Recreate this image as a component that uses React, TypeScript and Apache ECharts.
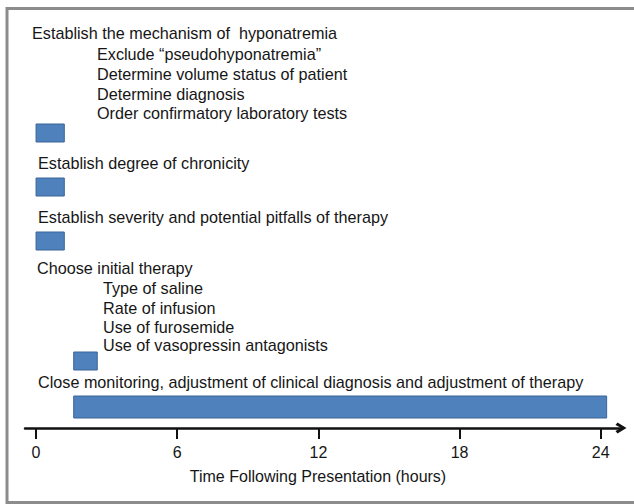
import React, { useEffect, useRef } from "react";
import * as echarts from "echarts";

// ---- data ----
const phases = [
  "Establish the mechanism of  hyponatremia",
  "Establish degree of chronicity",
  "Establish severity and potential pitfalls of therapy",
  "Choose initial therapy",
  "Close monitoring, adjustment of clinical diagnosis and adjustment of therapy",
];
const phaseStart = [0, 0, 0, 1.6, 1.6];
const phaseEnd = [1.2, 1.2, 1.2, 2.6, 24.25];
const mechanismSteps = [
  "Exclude \u201cpseudohyponatremia\u201d",
  "Determine volume status of patient",
  "Determine diagnosis",
  "Order confirmatory laboratory tests",
];
const therapySteps = [
  "Type of saline",
  "Rate of infusion",
  "Use of furosemide",
  "Use of vasopressin antagonists",
];
const xTicks = [0, 6, 12, 18, 24];
const xAxisName = "Time Following Presentation (hours)";

// ---- layout (pixels) ----
const ROW_Y = [133, 187, 241, 361, 407];
const BAR_H = [18, 18, 18, 18, 22];
const HEAD_POS = [
  [32, 33],
  [38, 163],
  [38, 217],
  [37, 268],
  [38, 382],
];
const MECH_X = 97;
const MECH_Y = [54, 74, 94, 113];
const THER_X = 103;
const THER_Y = [288, 308, 327, 345];

const FF = '"Liberation Sans", Arial, sans-serif';
const FONT = '16.2px "Liberation Sans", Arial, sans-serif';
const TEXT_COLOR = "#161616";

// open chevron arrow head (pointing up in symbol space; ECharts rotates it)
const CHEVRON = "path://M0,10 L6,0 L12,10 L9.4,12.2 L6,5.8 L2.6,12.2 Z";

function txt(text: string, x: number, y: number) {
  return {
    type: "text",
    style: { text, x, y, font: FONT, fill: TEXT_COLOR, verticalAlign: "middle", align: "left" },
    silent: true,
  };
}

export default function App() {
  const ref = useRef<HTMLDivElement>(null);
  useEffect(() => {
    if (!ref.current) return;
    const chart = echarts.init(ref.current, undefined, { renderer: "svg" });
    const graphics: any[] = [
      {
        type: "polyline",
        shape: { points: [[634, 8.5], [7, 8.5], [7, 502.5], [634, 502.5]] },
        style: { fill: "none", stroke: "#8c8c8c", lineWidth: 3 },
        silent: true,
        z: 10,
      },
    ];
    phases.forEach((p, i) => graphics.push(txt(p, HEAD_POS[i][0], HEAD_POS[i][1])));
    mechanismSteps.forEach((s, i) => graphics.push(txt(s, MECH_X, MECH_Y[i])));
    therapySteps.forEach((s, i) => graphics.push(txt(s, THER_X, THER_Y[i])));

    chart.setOption({
      animation: false,
      backgroundColor: "#ffffff",
      grid: { left: 25, right: 13, top: 0, bottom: 76 },
      xAxis: {
        type: "value",
        position: "bottom",
        min: -0.47,
        max: 24.86,
        splitLine: { show: false },
        axisLine: {
          show: true,
          onZero: false,
          symbol: ["none", CHEVRON],
          symbolSize: [14, 11],
          lineStyle: { color: "#111", width: 2.5 },
        },
        axisTick: {
          show: true,
          customValues: xTicks,
          length: 11,
          lineStyle: { color: "#111", width: 2 },
        },
        axisLabel: {
          customValues: xTicks,
          margin: 16,
          fontSize: 16,
          fontFamily: FF,
          color: TEXT_COLOR,
          showMinLabel: true,
          showMaxLabel: true,
        },
        name: xAxisName,
        nameLocation: "middle",
        nameGap: 40,
        nameTextStyle: { fontSize: 16, fontFamily: FF, color: TEXT_COLOR, padding: [0, 10, 0, 0] },
      },
      yAxis: { type: "value", min: 0, max: 428, inverse: true, show: false },
      series: [
        {
          type: "custom",
          clip: false,
          encode: { x: [0, 1], y: 2 },
          data: phases.map((_, i) => [phaseStart[i], phaseEnd[i], ROW_Y[i]]),
          renderItem: (params: any, api: any) => {
            const i = params.dataIndex;
            const s = api.coord([api.value(0), api.value(2)]);
            const e = api.coord([api.value(1), api.value(2)]);
            const h = BAR_H[i];
            return {
              type: "rect",
              shape: { x: s[0], y: s[1] - h / 2, width: e[0] - s[0], height: h },
              style: { fill: "#4f81bd", stroke: "#3a659a", lineWidth: 1 },
            };
          },
        },
      ],
      graphic: graphics,
    });
    return () => chart.dispose();
  }, []);
  return (
    <div
      ref={ref}
      style={{ position: "absolute", left: 0, top: 0, width: 634, height: 504 }}
    />
  );
}
